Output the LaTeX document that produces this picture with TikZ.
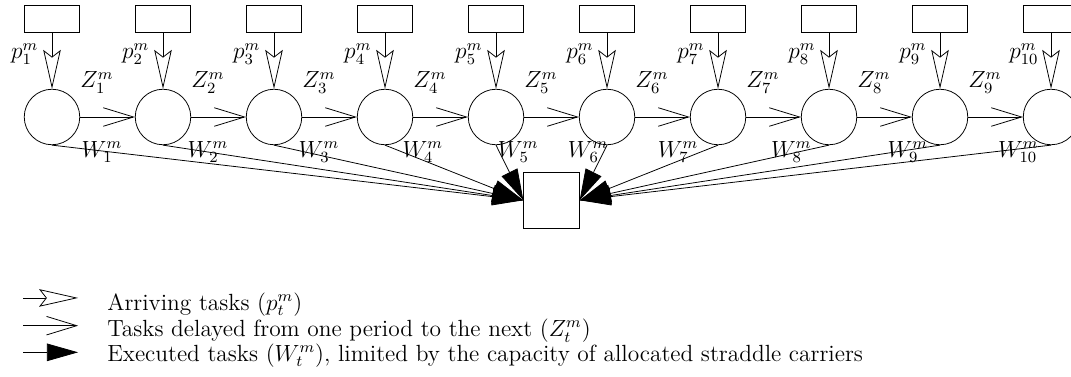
\documentclass[tikz,border=0pt]{standalone}
\usetikzlibrary{arrows.meta}
\begin{document}
\begin{tikzpicture}[
  font=\large,
  period/.style={circle, draw, minimum size=1cm, inner sep=0pt},
  source/.style={rectangle, draw, minimum width=1cm, minimum height=0.5cm, inner sep=0pt},
  sink/.style={rectangle, draw, minimum size=1cm, inner sep=0pt},
  arrive/.style={-{Stealth[open, length=20pt, width=9pt, inset=3.5pt]}},
  delay/.style={-{Straight Barb[length=15.5pt, width=9.5pt]}},
  exec/.style={-{Triangle[length=16pt, width=9pt]}},
  lbl/.style={inner sep=0pt},
  legendtext/.style={anchor=base west, inner sep=0pt},
]
\useasboundingbox (-0.937,-4.667) rectangle (18.36,2.108);

% periods, task sources and arriving tasks
\foreach \i in {1,...,10} {
  \node[period] (c\i) at ({2*(\i-1)},0) {};
  \node[source] (s\i) at ({2*(\i-1)},1.766) {};
  \draw[arrive] (s\i) -- (c\i);
  \node[lbl] (p\i) at ({2*(\i-1)-0.49},1.13) {$p_{\i}^m$};
}

% tasks delayed to the next period
\foreach \i [evaluate=\i as \j using int(\i+1)] in {1,...,9} {
  \draw[delay] (c\i) -- (c\j);
  \node[lbl] (z\i) at ({2*(\i-1)+0.81},0.62) {$Z_{\i}^m$};
}

% executed tasks
\node[sink] (k) at (9,-1.5) {};
\foreach \i in {1,...,5} {
  \draw[exec] (c\i.south) -- (k.west);
}
\foreach \i in {6,...,10} {
  \draw[exec] (c\i.south) -- (k.east);
}
\foreach \i/\dx in {1/0.9, 2/0.81, 3/0.81, 4/0.68, 5/0.40, 6/-0.34, 7/-0.72, 8/-0.68, 9/-0.58, 10/-0.59} {
  \node[lbl] (w\i) at ({2*(\i-1)+\dx},-0.63) {$W_{\i}^m$};
}

% legend
\coordinate (la1) at (-0.52,-3.26);
\coordinate (lb1) at (0.47,-3.26);
\coordinate (la2) at (-0.52,-3.76);
\coordinate (lb2) at (0.47,-3.76);
\coordinate (la3) at (-0.52,-4.24);
\coordinate (lb3) at (0.47,-4.24);
\draw[arrive] (la1) -- (lb1);
\draw[delay] (la2) -- (lb2);
\draw[exec] (la3) -- (lb3);
\node[legendtext] (t1) at (0.99,-3.48) {Arriving tasks ($p_t^m$)};
\node[legendtext] (t2) at (0.99,-3.95) {Tasks delayed from one period to the next ($Z_t^m$)};
\node[legendtext] (t3) at (0.99,-4.40) {Executed tasks ($W_t^m$), limited by the capacity of allocated straddle carriers};
\end{tikzpicture}
\end{document}
